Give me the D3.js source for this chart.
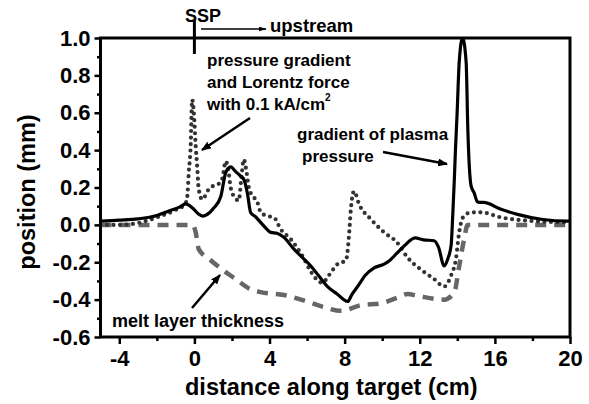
<!DOCTYPE html>
<html>
<head>
<meta charset="utf-8">
<script src="https://cdn.jsdelivr.net/npm/d3@7"></script>
<style>
  body { margin: 0; background: #fff; }
  svg { display: block; font-family: "Liberation Sans", Arial, Helvetica, sans-serif; font-weight: bold; }
</style>
</head>
<body>
<svg id="chart" width="589" height="404"></svg>
<script>
// values
const xTicks = [-4, 0, 4, 8, 12, 16, 20];
const xMinorTicks = [-2, 2, 6, 10, 14, 18];
const yTicks = [-0.6, -0.4, -0.2, 0.0, 0.2, 0.4, 0.6, 0.8, 1.0];
const yMinorTicks = [-0.5, -0.3, -0.1, 0.1, 0.3, 0.5, 0.7, 0.9];

// gradient of plasma pressure (solid)
const plasmaX = [-5, -4, -3, -2, -1.36, -0.8, -0.47, -0.1, 0.2, 0.42, 0.8, 1.03, 1.4, 1.67, 1.93, 2.2, 2.47, 2.65, 2.82, 3.0, 3.24, 3.7, 4.07, 4.4, 4.77, 5.3, 5.7, 6.2, 6.6, 7.09, 7.6, 8.16, 8.4, 8.69, 9.1, 9.57, 10.1, 10.4, 10.8, 11.2, 11.53, 11.75, 12.2, 12.77, 13.0, 13.3, 13.5, 13.67, 13.76, 13.84, 13.9, 13.99, 14.1, 14.28, 14.47, 14.56, 14.73, 14.9, 15.06, 15.17, 15.4, 16.33, 17.2, 18.47, 19.9, 20];
const plasmaY = [0.02, 0.025, 0.032, 0.05, 0.074, 0.095, 0.112, 0.09, 0.06, 0.047, 0.065, 0.09, 0.15, 0.28, 0.31, 0.285, 0.26, 0.24, 0.17, 0.065, 0.045, -0.006, -0.04, -0.045, -0.067, -0.13, -0.17, -0.22, -0.27, -0.33, -0.37, -0.41, -0.37, -0.33, -0.27, -0.23, -0.21, -0.19, -0.15, -0.11, -0.08, -0.07, -0.08, -0.085, -0.12, -0.22, -0.18, -0.11, 0.06, 0.24, 0.4, 0.6, 0.87, 1.0, 0.87, 0.51, 0.21, 0.17, 0.125, 0.12, 0.12, 0.083, 0.056, 0.03, 0.02, 0.02];

// pressure gradient and Lorentz force (dotted)
const lorentzX = [-5, -4, -3, -2, -1, -0.5, -0.38, -0.3, -0.2, -0.12, -0.03, 0.07, 0.15, 0.23, 0.42, 0.76, 1.03, 1.3, 1.49, 1.67, 1.8, 1.93, 2.2, 2.36, 2.5, 2.63, 2.75, 2.9, 3.0, 3.36, 3.53, 3.9, 4.23, 4.6, 5.13, 5.83, 6.2, 6.82, 7.16, 7.62, 8.07, 8.23, 8.33, 8.5, 8.77, 9.4, 10.1, 10.8, 11.35, 12.07, 12.77, 13.3, 13.67, 13.93, 14.1, 14.3, 14.73, 15.27, 16.33, 18.1, 20];
const lorentzY = [0.0, 0.0, 0.01, 0.04, 0.08, 0.11, 0.15, 0.28, 0.42, 0.67, 0.6, 0.42, 0.31, 0.19, 0.136, 0.19, 0.21, 0.22, 0.25, 0.34, 0.3, 0.2, 0.14, 0.13, 0.25, 0.35, 0.3, 0.2, 0.17, 0.12, 0.067, 0.047, 0.04, -0.024, -0.077, -0.18, -0.25, -0.31, -0.27, -0.21, -0.19, -0.06, 0.083, 0.18, 0.11, 0.03, -0.04, -0.095, -0.175, -0.24, -0.29, -0.33, -0.27, -0.18, -0.04, 0.04, 0.067, 0.067, 0.04, 0.02, 0.013];

// melt layer thickness (dashed)
const meltX = [-5, -0.11, 0.07, 0.23, 0.76, 1.49, 2.2, 2.9, 3.53, 4.77, 5.67, 6.9, 7.8, 8.87, 9.93, 10.8, 11.35, 11.9, 13.3, 13.84, 14.1, 14.36, 14.55, 20];
const meltY = [0.0, 0.0, -0.04, -0.13, -0.18, -0.24, -0.29, -0.34, -0.36, -0.375, -0.4, -0.44, -0.46, -0.43, -0.42, -0.39, -0.37, -0.38, -0.4, -0.36, -0.22, -0.077, 0.0, 0.0];

const svg = d3.select("#chart");
const plotLeft = 100.5, plotRight = 570, plotTop = 38, plotBottom = 337;

const x = d3.scaleLinear().domain([-5, 20]).range([plotLeft, plotRight]);
const y = d3.scaleLinear().domain([-0.6, 1.0]).range([plotBottom, plotTop]);

const defs = svg.append("defs");
defs.append("clipPath").attr("id", "plotClip")
  .append("rect")
  .attr("x", plotLeft).attr("y", plotTop - 1)
  .attr("width", plotRight - plotLeft).attr("height", plotBottom - plotTop + 1);

defs.append("marker")
  .attr("id", "head")
  .attr("viewBox", "0 0 10 8")
  .attr("refX", 9).attr("refY", 4)
  .attr("markerWidth", 10).attr("markerHeight", 8)
  .attr("markerUnits", "userSpaceOnUse")
  .attr("orient", "auto")
  .append("path").attr("d", "M0,0 L10,4 L0,8 Z").attr("fill", "#000");
defs.append("marker")
  .attr("id", "headSmall")
  .attr("viewBox", "0 0 10 6")
  .attr("refX", 9).attr("refY", 3)
  .attr("markerWidth", 8).attr("markerHeight", 5)
  .attr("markerUnits", "userSpaceOnUse")
  .attr("orient", "auto")
  .append("path").attr("d", "M0,0 L10,3 L0,6 Z").attr("fill", "#000");

// curves
const line = d3.line()
  .x(d => x(d[0]))
  .y(d => y(d[1]))
  .curve(d3.curveMonotoneX);

const curves = svg.append("g").attr("clip-path", "url(#plotClip)");

curves.append("path")
  .datum(d3.zip(meltX, meltY))
  .attr("d", line)
  .attr("fill", "none")
  .attr("stroke", "#666")
  .attr("stroke-width", 4.5)
  .attr("stroke-dasharray", "11 8");

curves.append("path")
  .datum(d3.zip(lorentzX, lorentzY))
  .attr("d", line)
  .attr("fill", "none")
  .attr("stroke", "#333")
  .attr("stroke-width", 4.2)
  .attr("stroke-linecap", "round")
  .attr("stroke-dasharray", "0 6.5");

curves.append("path")
  .datum(d3.zip(plasmaX, plasmaY))
  .attr("d", line)
  .attr("fill", "none")
  .attr("stroke", "#000")
  .attr("stroke-width", 3.2)
  .attr("stroke-linejoin", "round");

// axes
svg.append("g")
  .attr("transform", `translate(0,${plotBottom})`)
  .call(d3.axisBottom(x).tickValues(xTicks).tickSize(7).tickPadding(6).tickFormat(d => String(d)));
svg.append("g")
  .attr("transform", `translate(0,${plotBottom})`)
  .call(d3.axisBottom(x).tickValues(xMinorTicks).tickSize(4).tickFormat(""));

svg.append("g")
  .attr("transform", `translate(${plotLeft},0)`)
  .call(d3.axisLeft(y).tickValues(yTicks).tickSize(6).tickPadding(4).tickFormat(d => d.toFixed(1)));
svg.append("g")
  .attr("transform", `translate(${plotLeft},0)`)
  .call(d3.axisLeft(y).tickValues(yMinorTicks).tickSize(3.5).tickFormat(""));

svg.selectAll(".tick line").attr("stroke", "#000").attr("stroke-width", 2.5);
svg.selectAll(".domain").remove();
svg.selectAll(".tick text")
  .attr("fill", "#000")
  .style("font-size", "22px")
  .style("font-family", "'Liberation Sans', Arial, sans-serif")
  .style("font-weight", "bold");

// frame
svg.append("rect")
  .attr("x", plotLeft).attr("y", plotTop)
  .attr("width", plotRight - plotLeft).attr("height", plotBottom - plotTop)
  .attr("fill", "none")
  .attr("stroke", "#000")
  .attr("stroke-width", 3);

// axis titles
svg.append("text")
  .attr("x", (plotLeft + plotRight) / 2 - 4)
  .attr("y", 395)
  .attr("text-anchor", "middle")
  .style("font-size", "23.5px")
  .text("distance along target (cm)");

svg.append("text")
  .attr("transform", "translate(35,192) rotate(-90)")
  .attr("text-anchor", "middle")
  .style("font-size", "23.5px")
  .text("position (mm)");

// annotations
svg.append("line")
  .attr("x1", x(0)).attr("x2", x(0))
  .attr("y1", 20).attr("y2", 54)
  .attr("stroke", "#000").attr("stroke-width", 3);

svg.append("text").attr("x", 185).attr("y", 22).style("font-size", "18px").text("SSP");

svg.append("line")
  .attr("x1", 201).attr("y1", 29).attr("x2", 266).attr("y2", 29)
  .attr("stroke", "#000").attr("stroke-width", 1.5)
  .attr("marker-end", "url(#headSmall)");

svg.append("text").attr("x", 270).attr("y", 32).style("font-size", "18.5px").text("upstream");

const lorentzLabel = svg.append("g").style("font-size", "17px");
lorentzLabel.append("text").attr("x", 207).attr("y", 66).text("pressure gradient");
lorentzLabel.append("text").attr("x", 207).attr("y", 88).text("and Lorentz force");
const withText = lorentzLabel.append("text").attr("x", 207).attr("y", 110);
withText.append("tspan").text("with 0.1 kA/cm");
withText.append("tspan").attr("dy", -9).style("font-size", "10px").text("2");

svg.append("line")
  .attr("x1", 250).attr("y1", 118).attr("x2", 202).attr("y2", 150)
  .attr("stroke", "#000").attr("stroke-width", 2.5)
  .attr("marker-end", "url(#head)");

svg.append("text").attr("x", 297).attr("y", 140).style("font-size", "17px").text("gradient of plasma");
svg.append("text").attr("x", 302).attr("y", 162).style("font-size", "17px").text("pressure");

svg.append("line")
  .attr("x1", 383).attr("y1", 152).attr("x2", 447).attr("y2", 164)
  .attr("stroke", "#000").attr("stroke-width", 2.5)
  .attr("marker-end", "url(#head)");

svg.append("text").attr("x", 112).attr("y", 327).style("font-size", "18px").text("melt layer thickness");

svg.append("line")
  .attr("x1", 192).attr("y1", 308).attr("x2", 220).attr("y2", 275)
  .attr("stroke", "#000").attr("stroke-width", 2.5)
  .attr("marker-end", "url(#head)");
</script>
</body>
</html>
